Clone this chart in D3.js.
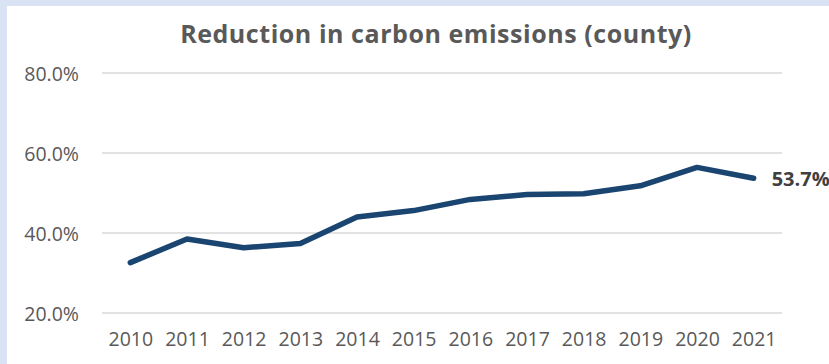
<!DOCTYPE html>
<html>
<head>
<meta charset="utf-8">
<script src="https://cdn.jsdelivr.net/npm/d3@7"></script>
<style>
  html, body { margin: 0; padding: 0; background: #dae3f3; }
  svg { display: block; }
</style>
</head>
<body>
<svg id="chart" width="829" height="364"></svg>
<script>
// Data: yearly reduction in carbon emissions (share, %)
const years = ["2010","2011","2012","2013","2014","2015","2016","2017","2018","2019","2020","2021"];
const reduction = [32.6, 38.5, 36.3, 37.4, 44.0, 45.6, 48.4, 49.6, 49.8, 51.8, 56.4, 53.7];
const yTicks = [20, 40, 60, 80];
const titleText = "Reduction in carbon emissions (county)";

const W = 829, H = 364;
const svg = d3.select("#chart");

// white chart panel over the light-blue frame
svg.append("rect")
  .attr("x", 7).attr("y", 6)
  .attr("width", W - 7).attr("height", H - 6)
  .attr("fill", "#ffffff");

const plot = { left: 102, right: 782, top: 73, bottom: 313 };

const x = d3.scalePoint()
  .domain(years)
  .range([plot.left, plot.right])
  .padding(0.5);

const y = d3.scaleLinear()
  .domain([20, 80])
  .range([plot.bottom, plot.top]);

const textColor = "#595959";
const font = "'Open Sans', sans-serif";
const labelSize = "19.5px";

// horizontal gridlines
svg.append("g")
  .selectAll("line")
  .data(yTicks)
  .join("line")
  .attr("x1", plot.left).attr("x2", plot.right)
  .attr("y1", d => y(d)).attr("y2", d => y(d))
  .attr("stroke", "#d9d9d9")
  .attr("stroke-width", 1.5);

// y axis labels
const yAxis = d3.axisLeft(y)
  .tickValues(yTicks)
  .tickSize(0)
  .tickPadding(0)
  .tickFormat(d => d.toFixed(1) + "%");

const gy = svg.append("g")
  .attr("transform", `translate(79,0)`)
  .call(yAxis);
gy.select(".domain").remove();
gy.selectAll("text")
  .attr("fill", textColor)
  .attr("font-family", font)
  .attr("font-size", labelSize)
  .attr("dy", "0.36em");

// x axis labels
const xAxis = d3.axisBottom(x).tickSize(0).tickPadding(0);
const gx = svg.append("g")
  .attr("transform", `translate(0,${plot.bottom})`)
  .call(xAxis);
gx.select(".domain").remove();
gx.selectAll("text")
  .attr("fill", textColor)
  .attr("font-family", font)
  .attr("font-size", labelSize)
  .attr("dy", null)
  .attr("y", 33);

// title
svg.append("text")
  .attr("x", 436)
  .attr("y", 43)
  .attr("text-anchor", "middle")
  .attr("fill", textColor)
  .attr("font-family", font)
  .attr("font-weight", 700)
  .attr("font-size", "25px")
  .attr("letter-spacing", "0.55px")
  .text(titleText);

// series line
const line = d3.line()
  .x((d, i) => x(years[i]))
  .y(d => y(d));

svg.append("path")
  .datum(reduction)
  .attr("d", line)
  .attr("fill", "none")
  .attr("stroke", "#1a4570")
  .attr("stroke-width", 5.5)
  .attr("stroke-linejoin", "round")
  .attr("stroke-linecap", "round");

// value label on the last point
const lastIdx = reduction.length - 1;
svg.append("text")
  .attr("x", x(years[lastIdx]) + 18)
  .attr("y", y(reduction[lastIdx]))
  .attr("dy", "0.38em")
  .attr("fill", "#404040")
  .attr("font-family", font)
  .attr("font-weight", 700)
  .attr("font-size", "20px")
  .text(reduction[lastIdx].toFixed(1) + "%");
</script>
</body>
</html>
